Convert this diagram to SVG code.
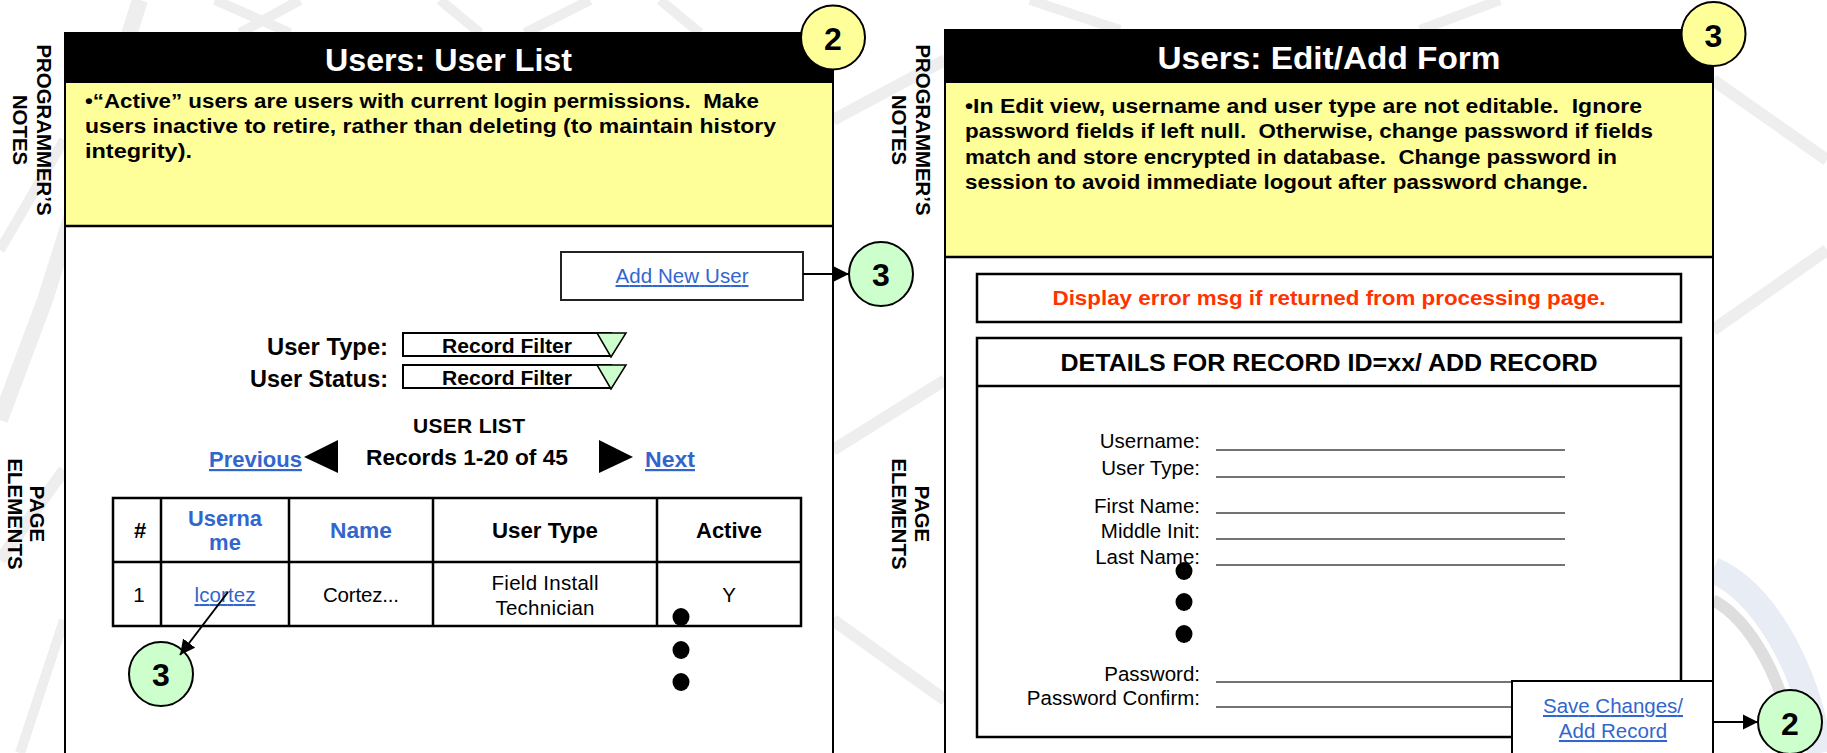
<svg xmlns="http://www.w3.org/2000/svg" width="1827" height="753" viewBox="0 0 1827 753">
<defs>
<style>
.r{font-family:"Liberation Sans",Arial,sans-serif;font-size:20.5px;fill:#000;}
.b{font-family:"Liberation Sans",Arial,sans-serif;font-weight:bold;fill:#000;}
.ttl{font-family:"Liberation Sans",Arial,sans-serif;font-weight:bold;font-size:31px;fill:#fff;}
.note{font-family:"Liberation Sans",Arial,sans-serif;font-weight:bold;font-size:19.5px;fill:#000;}
.side{font-family:"Liberation Sans",Arial,sans-serif;font-weight:bold;font-size:20.4px;fill:#000;}
.lnk{fill:#3366CC;text-decoration:underline;}
.blue{fill:#3366CC;}
.red{fill:#FF3300;}
.num{font-family:"Liberation Sans",Arial,sans-serif;font-weight:bold;font-size:32px;fill:#000;text-anchor:middle;}
.cy{fill:#FFFF99;stroke:#000;stroke-width:2;}
.cg{fill:#CCFFCC;stroke:#000;stroke-width:2;}
.tbl{fill:none;stroke:#000;stroke-width:2.5;}
.ul{stroke:#444;stroke-width:1.6;}
.bg{fill:none;stroke:#eeeeee;stroke-linecap:butt;}
.con{stroke:#000;stroke-width:2;fill:none;}
.mid{text-anchor:middle;}
.end{text-anchor:end;}
</style>
<marker id="ah" markerUnits="userSpaceOnUse" markerWidth="16" markerHeight="16" refX="15" refY="8" orient="auto">
<path d="M0,0.5 L15,8 L0,15.5 Z" fill="#000"/>
</marker>
</defs>

<rect x="0" y="0" width="1827" height="753" fill="#fff"/>

<g id="background">
<path class="bg" stroke-width="16" d="M140,0 L45,300 L0,420"/>
<path class="bg" stroke-width="10" d="M0,250 L64,140"/>
<path class="bg" stroke-width="12" d="M0,560 L64,470"/>
<path class="bg" stroke-width="10" d="M20,753 L64,620"/>
<path class="bg" stroke-width="10" d="M215,0 L290,33"/>
<path class="bg" stroke-width="10" d="M300,0 L240,33"/>
<path class="bg" stroke-width="10" d="M440,0 L480,33"/>
<path class="bg" stroke-width="10" d="M590,0 L525,33"/>
<path class="bg" stroke-width="10" d="M660,0 L700,33"/>
<path class="bg" stroke-width="12" d="M833,120 L945,60"/>
<path class="bg" stroke-width="12" d="M833,450 L945,380"/>
<path class="bg" stroke-width="12" d="M833,620 L945,700"/>
<path class="bg" stroke-width="10" d="M1030,0 L1120,30"/>
<path class="bg" stroke-width="10" d="M1500,0 L1420,30"/>
<path class="bg" stroke-width="12" d="M1713,80 L1827,160"/>
<path class="bg" stroke-width="12" d="M1713,330 L1827,250"/>
<path fill="none" stroke="#e8ecf5" stroke-width="26" d="M1713,570 C1760,590 1805,660 1820,753"/>
<path fill="none" stroke="#dedede" stroke-width="12" d="M1713,600 C1750,620 1785,680 1795,753"/>
</g>

<g id="side-labels">
<g transform="translate(37,130) rotate(90)"><text class="side mid" x="0" y="0">PROGRAMMER’S</text></g>
<g transform="translate(13,130) rotate(90)"><text class="side mid" x="0" y="0">NOTES</text></g>
<g transform="translate(30,514) rotate(90)"><text class="side mid" x="0" y="0">PAGE</text></g>
<g transform="translate(8,514) rotate(90)"><text class="side mid" x="0" y="0">ELEMENTS</text></g>
<g transform="translate(916,130) rotate(90)"><text class="side mid" x="0" y="0">PROGRAMMER’S</text></g>
<g transform="translate(892,130) rotate(90)"><text class="side mid" x="0" y="0">NOTES</text></g>
<g transform="translate(915,514) rotate(90)"><text class="side mid" x="0" y="0">PAGE</text></g>
<g transform="translate(892,514) rotate(90)"><text class="side mid" x="0" y="0">ELEMENTS</text></g>
</g>

<g id="page-user-list">
<rect x="65" y="33" width="768" height="740" fill="#fff" stroke="#000" stroke-width="2"/>
<rect x="64" y="33" width="770" height="50" fill="#000"/>
<rect x="65" y="83" width="768" height="143" fill="#FFFF99"/>
<line x1="64" y1="226" x2="834" y2="226" stroke="#000" stroke-width="2.5"/>
<line x1="65" y1="33" x2="65" y2="753" stroke="#000" stroke-width="2"/>
<line x1="833" y1="33" x2="833" y2="753" stroke="#000" stroke-width="2"/>
<text class="ttl mid" x="448.5" y="71" textLength="247" lengthAdjust="spacingAndGlyphs">Users: User List</text>
<text class="note" x="85" y="108" xml:space="preserve" textLength="674" lengthAdjust="spacingAndGlyphs">•“Active” users are users with current login permissions.  Make</text>
<text class="note" x="85" y="133" textLength="691" lengthAdjust="spacingAndGlyphs">users inactive to retire, rather than deleting (to maintain history</text>
<text class="note" x="85" y="158" textLength="107" lengthAdjust="spacingAndGlyphs">integrity).</text>
</g>

<g id="btn-add-new-user">
<rect x="561" y="252" width="242" height="48" fill="#fff" stroke="#222" stroke-width="2"/>
<text class="r lnk mid" x="682" y="283" textLength="133">Add New User</text>
</g>

<g id="filters">
<text class="b end" x="388" y="355" font-size="23" textLength="121" lengthAdjust="spacingAndGlyphs">User Type:</text>
<text class="b end" x="388" y="387" font-size="23" textLength="138" lengthAdjust="spacingAndGlyphs">User Status:</text>
<rect x="403" y="333" width="208" height="23" fill="#fff" stroke="#000" stroke-width="2"/>
<polygon points="597,333 626,333 611,357" fill="#CCFFCC" stroke="#000" stroke-width="1.5"/>
<text class="b mid" x="507" y="353" font-size="21" textLength="130" lengthAdjust="spacingAndGlyphs">Record Filter</text>
<rect x="403" y="365" width="208" height="23" fill="#fff" stroke="#000" stroke-width="2"/>
<polygon points="597,365 626,365 611,389" fill="#CCFFCC" stroke="#000" stroke-width="1.5"/>
<text class="b mid" x="507" y="385" font-size="21" textLength="130" lengthAdjust="spacingAndGlyphs">Record Filter</text>
</g>

<g id="pager">
<text class="b mid" x="469" y="433" font-size="21" textLength="112">USER LIST</text>
<text class="b lnk" x="209" y="467" font-size="22" textLength="93" lengthAdjust="spacingAndGlyphs">Previous</text>
<polygon points="304,457 338,440 338,473" fill="#000"/>
<text class="b mid" x="467" y="465" font-size="22" textLength="202" lengthAdjust="spacingAndGlyphs">Records 1-20 of 45</text>
<polygon points="599,440 633,457 599,473" fill="#000"/>
<text class="b lnk" x="645" y="467" font-size="22" textLength="50" lengthAdjust="spacingAndGlyphs">Next</text>
</g>

<g id="user-table">
<rect x="113" y="498" width="688" height="128" fill="#fff" stroke="#000" stroke-width="2.5"/>
<line class="tbl" x1="113" y1="562" x2="801" y2="562"/>
<line class="tbl" x1="161" y1="498" x2="161" y2="626"/>
<line class="tbl" x1="289" y1="498" x2="289" y2="626"/>
<line class="tbl" x1="433" y1="498" x2="433" y2="626"/>
<line class="tbl" x1="657" y1="498" x2="657" y2="626"/>
<text class="b mid" x="140" y="538" font-size="22">#</text>
<text class="b mid blue" x="225" y="526" font-size="22" textLength="74" lengthAdjust="spacingAndGlyphs">Userna</text>
<text class="b mid blue" x="225" y="550" font-size="22">me</text>
<text class="b mid blue" x="361" y="538" font-size="22" textLength="62" lengthAdjust="spacingAndGlyphs">Name</text>
<text class="b mid" x="545" y="538" font-size="22" textLength="106" lengthAdjust="spacingAndGlyphs">User Type</text>
<text class="b mid" x="729" y="538" font-size="22" textLength="66" lengthAdjust="spacingAndGlyphs">Active</text>
<text class="r mid" x="139" y="602">1</text>
<text class="r lnk mid" x="225" y="602" textLength="61">lcortez</text>
<text class="r mid" x="361" y="602" textLength="76">Cortez...</text>
<text class="r mid" x="545" y="590" textLength="107">Field Install</text>
<text class="r mid" x="545" y="615" textLength="99">Technician</text>
<text class="r mid" x="729" y="602">Y</text>
</g>

<g id="dots-list">
<ellipse cx="681" cy="617" rx="8.5" ry="9" fill="#000"/>
<ellipse cx="681" cy="650" rx="8.5" ry="9" fill="#000"/>
<ellipse cx="681" cy="682" rx="8.5" ry="9" fill="#000"/>
</g>

<g id="page-edit-form">
<rect x="945" y="30" width="768" height="743" fill="#fff" stroke="#000" stroke-width="2"/>
<rect x="944" y="30" width="770" height="53" fill="#000"/>
<rect x="945" y="83" width="768" height="174" fill="#FFFF99"/>
<line x1="944" y1="257" x2="1714" y2="257" stroke="#000" stroke-width="2.5"/>
<line x1="945" y1="30" x2="945" y2="753" stroke="#000" stroke-width="2"/>
<line x1="1713" y1="30" x2="1713" y2="753" stroke="#000" stroke-width="2"/>
<text class="ttl mid" x="1329" y="69" textLength="343" lengthAdjust="spacingAndGlyphs">Users: Edit/Add Form</text>
<text class="note" x="965" y="113" xml:space="preserve" textLength="677" lengthAdjust="spacingAndGlyphs">•In Edit view, username and user type are not editable.  Ignore</text>
<text class="note" x="965" y="138" xml:space="preserve" textLength="688" lengthAdjust="spacingAndGlyphs">password fields if left null.  Otherwise, change password if fields</text>
<text class="note" x="965" y="164" xml:space="preserve" textLength="652" lengthAdjust="spacingAndGlyphs">match and store encrypted in database.  Change password in</text>
<text class="note" x="965" y="189" textLength="623" lengthAdjust="spacingAndGlyphs">session to avoid immediate logout after password change.</text>
</g>

<g id="error-box">
<rect x="977" y="274" width="704" height="48" fill="#fff" stroke="#000" stroke-width="2.5"/>
<text class="b mid red" x="1329" y="305" font-size="21" textLength="553" lengthAdjust="spacingAndGlyphs">Display error msg if returned from processing page.</text>
</g>

<g id="details-box">
<rect x="977" y="338" width="704" height="399" fill="#fff" stroke="#000" stroke-width="2.5"/>
<line x1="977" y1="386" x2="1681" y2="386" stroke="#000" stroke-width="2.5"/>
<text class="b mid" x="1329" y="371" font-size="23" textLength="537" lengthAdjust="spacingAndGlyphs">DETAILS FOR RECORD ID=xx/ ADD RECORD</text>
<text class="r end" x="1200" y="448">Username:</text>
<text class="r end" x="1200" y="475">User Type:</text>
<text class="r end" x="1200" y="513">First Name:</text>
<text class="r end" x="1200" y="538">Middle Init:</text>
<text class="r end" x="1200" y="564">Last Name:</text>
<text class="r end" x="1200" y="681">Password:</text>
<text class="r end" x="1200" y="705">Password Confirm:</text>
<line class="ul" x1="1216" y1="450" x2="1565" y2="450"/>
<line class="ul" x1="1216" y1="477" x2="1565" y2="477"/>
<line class="ul" x1="1216" y1="513" x2="1565" y2="513"/>
<line class="ul" x1="1216" y1="539" x2="1565" y2="539"/>
<line class="ul" x1="1216" y1="565" x2="1565" y2="565"/>
<line class="ul" x1="1216" y1="682" x2="1565" y2="682"/>
<line class="ul" x1="1216" y1="707" x2="1565" y2="707"/>
</g>

<g id="dots-form">
<ellipse cx="1184" cy="571" rx="8.5" ry="9" fill="#000"/>
<ellipse cx="1184" cy="602" rx="8.5" ry="9" fill="#000"/>
<ellipse cx="1184" cy="634" rx="8.5" ry="9" fill="#000"/>
</g>

<g id="btn-save">
<rect x="1512" y="681" width="201" height="90" fill="#fff" stroke="#000" stroke-width="2"/>
<text class="r lnk mid" x="1613" y="713" textLength="140">Save Changes/</text>
<text class="r lnk mid" x="1613" y="738">Add Record</text>
</g>

<g id="marker-2-list">
<circle class="cy" cx="833" cy="37.5" r="32"/>
<text class="num" x="833" y="50">2</text>
</g>
<g id="marker-3-edit">
<circle class="cy" cx="1713.5" cy="34" r="32"/>
<text class="num" x="1713.5" y="47">3</text>
</g>
<g id="link-3-add">
<circle class="cg" cx="881" cy="274" r="32"/>
<text class="num" x="881" y="286">3</text>
</g>
<g id="link-3-edit">
<circle class="cg" cx="161" cy="674" r="32"/>
<text class="num" x="161" y="686">3</text>
</g>
<g id="link-2-save">
<circle class="cg" cx="1790" cy="722" r="32"/>
<text class="num" x="1790" y="735">2</text>
</g>

<g id="connectors">
<line class="con" x1="803" y1="274" x2="849" y2="274" marker-end="url(#ah)"/>
<line class="con" stroke-width="1.5" x1="228" y1="592" x2="180" y2="655" marker-end="url(#ah)"/>
<line class="con" x1="1713" y1="722" x2="1758" y2="722" marker-end="url(#ah)"/>
</g>
</svg>
